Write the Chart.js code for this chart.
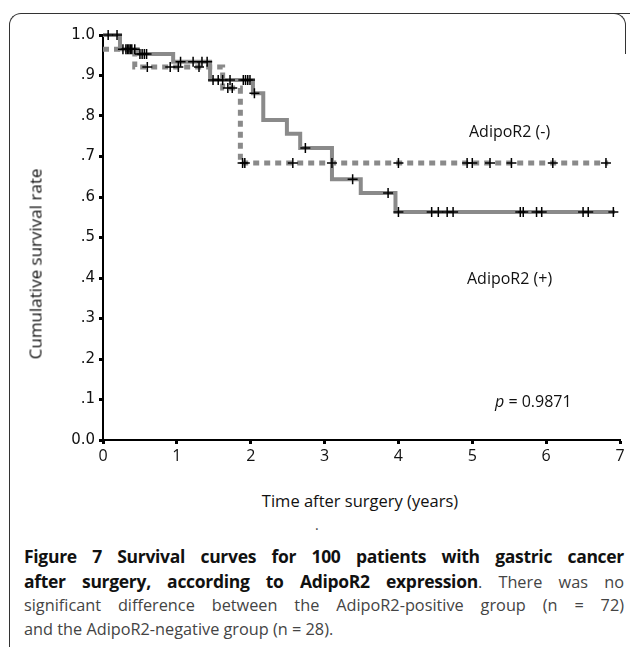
<!DOCTYPE html>
<html>
<head>
<meta charset="utf-8">
<script src="https://cdn.jsdelivr.net/npm/chart.js@4.4.1/dist/chart.umd.min.js"></script>
<style>
  body { margin: 0; background: #fff; width: 630px; height: 647px; overflow: hidden; position: relative; font-family: "Open Sans", sans-serif; }
  #box { position: absolute; left: 9px; top: 13px; width: 640px; height: 700px; border-left: 1.5px solid #333; border-top: 1.5px solid #333; border-top-left-radius: 12px; }
  #corner { position: absolute; left: 605px; top: 13px; width: 20px; height: 40px; border-right: 1.5px solid #333; border-top: 1.5px solid #333; border-top-right-radius: 12px; }
  #chart { position: absolute; left: 0; top: 0; }
  .note { position: absolute; font-size: 16px; color: #111; white-space: nowrap; transform: translateY(-50%); }
  #ytitle { position: absolute; left: 35px; top: 264px; font-size: 17px; white-space: nowrap; transform: translate(-50%, -50%) rotate(-90deg); color: #111; }
  #xtitle { position: absolute; left: 360px; top: 500px; font-size: 16.5px; white-space: nowrap; transform: translate(-50%, -50%); color: #111; }
  #dot { position: absolute; left: 315px; top: 515px; font-size: 14px; color: #444; }
  #caption { position: absolute; left: 24px; top: 545px; width: 600px; font-family: "Open Sans", sans-serif; font-size: 16.3px; line-height: 23.6px; color: #444; }
  #caption div { text-align: justify; text-align-last: justify; white-space: nowrap; }
  #caption div.last { text-align-last: left; }
  #caption b { color: #111; font-size: 17.5px; letter-spacing: -0.3px; }
</style>
</head>
<body>
<div id="box"></div>
<div id="corner"></div>
<canvas id="chart" width="630" height="470"></canvas>
<div class="note" style="left:469px; top:131px;">AdipoR2 (-)</div>
<div class="note" style="left:467px; top:278px;">AdipoR2 (+)</div>
<div class="note" style="left:495px; top:401px;"><i>p</i> = 0.9871</div>
<div id="ytitle">Cumulative survival rate</div>
<div id="xtitle">Time after surgery (years)</div>
<div id="dot">.</div>
<div id="caption">
  <div><b>Figure 7 Survival curves for 100 patients with gastric cancer</b></div>
  <div><b>after surgery, according to AdipoR2 expression</b>. There was no</div>
  <div>significant difference between the AdipoR2-positive group (n = 72)</div>
  <div class="last">and the AdipoR2-negative group (n = 28).</div>
</div>
<script>
// AdipoR2 (+) : step curve (time in years, survival after the step)
const posTimes = [0, 0.23, 0.47, 0.95, 1.45, 2.03, 2.17, 2.49, 2.67, 3.10, 3.49, 3.96, 6.93];
const posSurv  = [1.0, 0.965, 0.953, 0.934, 0.889, 0.856, 0.790, 0.756, 0.721, 0.644, 0.610, 0.563, 0.563];
// AdipoR2 (-)
const negTimes = [0, 0.43, 1.62, 1.86, 6.84];
const negSurv  = [0.965, 0.921, 0.869, 0.684, 0.684];
// censored patients (+ marks)
const posCensor = [0.07, 0.19, 0.27, 0.31, 0.35, 0.39, 0.43, 0.50, 0.53, 0.56, 0.59, 1.05, 1.22, 1.34, 1.41,
  1.49, 1.56, 1.62, 1.72, 1.90, 1.93, 1.96, 1.99, 2.05, 2.74, 3.38, 3.86, 4.00, 4.45, 4.54, 4.66, 4.74,
  5.65, 5.69, 5.87, 5.94, 6.50, 6.57, 6.91];
const negCensor = [0.33, 0.37, 0.60, 0.91, 1.02, 1.30, 1.69, 1.75, 1.89, 1.92, 2.57, 3.10, 4.00, 4.93, 5.00,
  5.24, 5.53, 6.09, 6.81];
const yTicks = ['0.0', '.1', '.2', '.3', '.4', '.5', '.6', '.7', '.8', '.9', '1.0'];
const xTicks = ['0', '1', '2', '3', '4', '5', '6', '7'];

function survAt(times, surv, t) {
  let s = surv[0];
  for (let i = 0; i < times.length; i++) if (times[i] <= t) s = surv[i];
  return s;
}
const pts = (times, surv) => times.map((t, i) => ({ x: t, y: surv[i] }));
const marks = (ct, times, surv) => ct.map((t) => ({ x: t, y: survAt(times, surv, t) }));

const grey = '#8a8a8a';
const ctx = document.getElementById('chart').getContext('2d');
new Chart(ctx, {
  type: 'scatter',
  data: {
    datasets: [
      { data: marks(posCensor, posTimes, posSurv), pointStyle: 'cross', pointRadius: 5, borderColor: '#000', borderWidth: 1.5, showLine: false, order: 1 },
      { data: marks(negCensor, negTimes, negSurv), pointStyle: 'cross', pointRadius: 5, borderColor: '#000', borderWidth: 1.5, showLine: false, order: 1 },
      { data: pts(posTimes, posSurv), showLine: true, stepped: true, borderColor: grey, borderWidth: 4, pointRadius: 0, order: 2 },
      { data: pts(negTimes, negSurv), showLine: true, stepped: true, borderColor: grey, borderWidth: 5, borderDash: [6, 5], borderCapStyle: 'butt', pointRadius: 0, order: 3 },
    ],
  },
  options: {
    responsive: false,
    animation: false,
    clip: false,
    layout: { padding: { top: 35, right: 10, left: 0, bottom: 0 } },
    plugins: { legend: { display: false }, tooltip: { enabled: false } },
    scales: {
      x: {
        type: 'linear', min: 0, max: 7,
        afterFit: (s) => { s.height = 30; },
        border: { color: '#000', width: 2 },
        grid: { drawOnChartArea: false, tickLength: 4, tickWidth: 3, color: '#000' },
        ticks: { stepSize: 1, padding: 3, color: '#111', font: { family: 'Open Sans', size: 16 },
          callback: (v) => xTicks[v] },
      },
      y: {
        min: 0, max: 1,
        afterFit: (s) => { s.width = 103; },
        border: { color: '#000', width: 2 },
        grid: { drawOnChartArea: false, tickLength: 4, tickWidth: 3, color: '#000' },
        ticks: { stepSize: 0.1, padding: 4, color: '#111', font: { family: 'DejaVu Sans', size: 15 },
          callback: (v) => yTicks[Math.round(v * 10)] },
      },
    },
  },
});
</script>
</body>
</html>
